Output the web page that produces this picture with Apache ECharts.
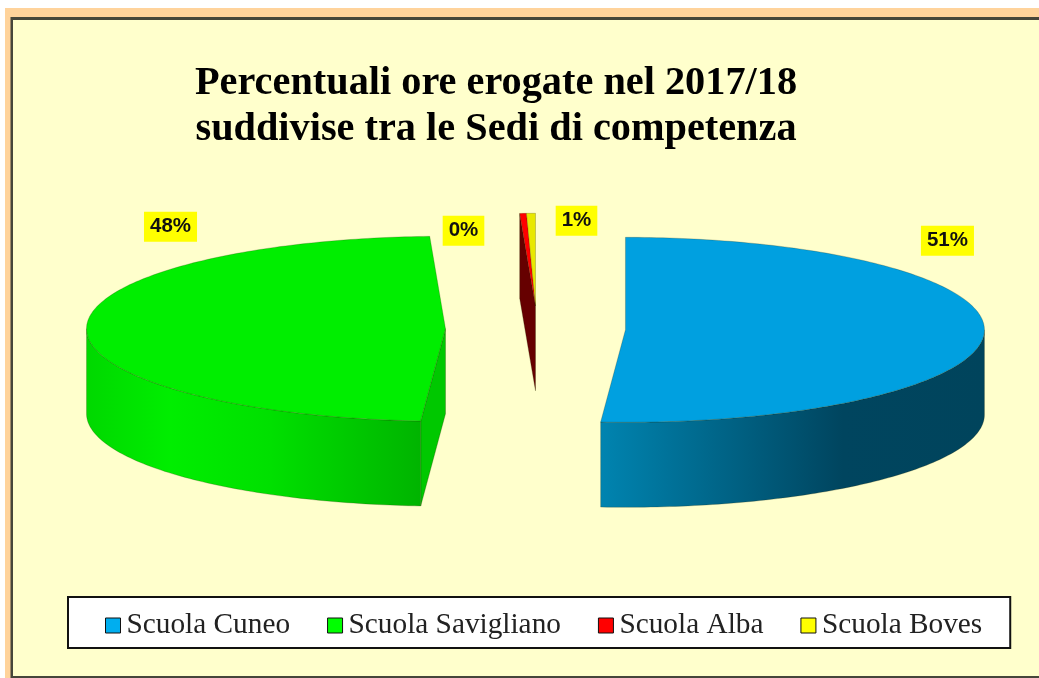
<!DOCTYPE html>
<html>
<head>
<meta charset="utf-8">
<style>html,body{margin:0;padding:0;background:#fff}#c{width:1039px;height:678px}</style>
<script src="https://cdn.jsdelivr.net/npm/echarts@6/dist/echarts.min.js"></script>
</head>
<body>
<div id="c"></div>
<script>
// ---- data ----
const categories = ['Scuola Cuneo', 'Scuola Savigliano', 'Scuola Alba', 'Scuola Boves'];
const values = [51.1, 48.2, 0.3, 0.4];
const percentLabels = ['51%', '48%', '0%', '1%'];
const titleLines = ['Percentuali ore erogate nel 2017/18', 'suddivise tra le Sedi di competenza'];

// ---- style ----
const topColors = ['#00a0e0', '#00ee00', '#ff0000', '#e8e800'];
const legendColors = ['#00aeef', '#00ff00', '#ff0000', '#ffff00'];
const cutColors = ['#006a90', '#00c800', '#660000', '#8a8a00'];
const wallStops = [
  [[0, '#0084b0'], [0.63, '#00455f'], [1, '#00445c']],
  [[0, '#00d800'], [0.25, '#00ee00'], [0.55, '#00e000'], [1, '#00b400']],
  [[0, '#660000'], [1, '#660000']],
  [[0, '#8a8a00'], [1, '#8a8a00']]
];
// pie geometry
const CX = 535.5, CY = 329, RX = 359, RY = 92.5, DEPTH = 85, EXPLODE = 90;
const SMALL_SHARE = 2; // slices under this share are pulled straight back together
const labelOffsets = [[322, -89], [-275, -102], [-72, -75], [41, -85]];
const edge = 'rgba(40,40,0,0.45)';

const total = values.reduce((a, b) => a + b, 0);
const D2R = Math.PI / 180;
let run = 0;
const spans = values.map(v => { const s = run; run += v / total * 360; return [s, run]; });
const isSmall = i => i >= 0 && values[i] / total * 100 < SMALL_SHARE;

function centerOf(i) {
  const mid = isSmall(i) ? 0 : (spans[i][0] + spans[i][1]) / 2;
  return [CX + EXPLODE * Math.sin(mid * D2R), CY - EXPLODE * (RY / RX) * Math.cos(mid * D2R)];
}
function pt(c, t, dz) {
  return [c[0] + RX * Math.sin(t * D2R), c[1] - RY * Math.cos(t * D2R) + (dz || 0)];
}
function arc(c, a, b, dz) {
  const out = [], n = Math.max(1, Math.ceil(Math.abs(b - a)));
  for (let k = 0; k <= n; k++) out.push(pt(c, a + (b - a) * k / n, dz));
  return out;
}
function sliceItem(i) {
  const c = centerOf(i), s = spans[i][0], e = spans[i][1];
  const children = [];
  // cut face at the start edge (visible when it faces the viewer and no neighbour hides it)
  if (Math.cos((s - 90) * D2R) < 0 && !(isSmall(i) && isSmall(i - 1))) {
    const p = pt(c, s);
    children.push({ type: 'polygon', shape: { points: [p, c, [c[0], c[1] + DEPTH], [p[0], p[1] + DEPTH]] },
      style: { fill: cutColors[i], stroke: edge, lineWidth: 0.6 } });
  }
  // cut face at the end edge
  if (Math.cos((e + 90) * D2R) < 0) {
    const p = pt(c, e);
    children.push({ type: 'polygon', shape: { points: [p, c, [c[0], c[1] + DEPTH], [p[0], p[1] + DEPTH]] },
      style: { fill: cutColors[i], stroke: edge, lineWidth: 0.6 } });
  }
  // outer wall
  const wa = Math.max(s, 90), wb = Math.min(e, 270);
  if (wb > wa) {
    const pts = arc(c, wa, wb).concat(arc(c, wb, wa, DEPTH));
    children.push({ type: 'polygon', shape: { points: pts },
      style: { fill: new echarts.graphic.LinearGradient(0, 0, 1, 0,
        wallStops[i].map(st => ({ offset: st[0], color: st[1] }))), stroke: edge, lineWidth: 0.5 } });
  }
  // top face
  children.push({ type: 'polygon', shape: { points: arc(c, s, e).concat([c]) },
    style: { fill: topColors[i], stroke: edge, lineWidth: 0.5 } });
  // percent label
  children.push({ type: 'text', x: c[0] + labelOffsets[i][0], y: c[1] + labelOffsets[i][1],
    style: { text: percentLabels[i], fill: '#111', font: 'bold 20.5px "Liberation Sans", Arial, sans-serif',
      align: 'center', verticalAlign: 'middle', backgroundColor: '#ffff00', padding: [5, 6, 4, 6] } });
  return { type: 'group', children };
}

const legendFont = { fontFamily: '"Liberation Serif", "Times New Roman", serif', fontSize: 29.3, color: '#222' };
const chart = echarts.init(document.getElementById('c'), null, { renderer: 'canvas' });
chart.setOption({
  animation: false,
  backgroundColor: '#ffffff',
  graphic: { elements: [
    { type: 'rect', z: -10, silent: true, shape: { x: 5, y: 8, width: 1034, height: 670 }, style: { fill: '#ffd39b' } },
    { type: 'rect', z: -9, silent: true, shape: { x: 10.5, y: 17, width: 1029, height: 661 }, style: { fill: '#46463a' } },
    { type: 'rect', z: -8, silent: true, shape: { x: 13, y: 20, width: 1026, height: 656 }, style: { fill: '#ffffcc' } }
  ] },
  title: {
    text: titleLines.join('\n'),
    left: 491, top: 56, textAlign: 'center',
    textStyle: { fontFamily: '"Liberation Serif", "Times New Roman", serif', fontWeight: 'bold', fontSize: 40.3, lineHeight: 46, color: '#000' }
  },
  legend: {
    data: categories.map((n, i) => ({ name: n, itemStyle: { color: legendColors[i], borderColor: '#111', borderWidth: 1 } })),
    left: 68, top: 597, orient: 'horizontal',
    backgroundColor: '#fff', borderColor: '#111', borderWidth: 2,
    padding: [14, 28, 8, 37], itemGap: 37, itemWidth: 15, itemHeight: 15, icon: 'rect',
    selectedMode: false,
    formatter: n => '{a|' + n + '}',
    textStyle: Object.assign({}, legendFont, { rich: { a: Object.assign({}, legendFont, { padding: [0, 0, 0, 1] }) } })
  },
  series: categories.map((n, i) => ({
    type: 'custom', name: n, coordinateSystem: 'none', silent: true,
    itemStyle: { color: legendColors[i] },
    data: [values[i]],
    renderItem: () => sliceItem(i)
  }))
});
</script>
</body>
</html>
